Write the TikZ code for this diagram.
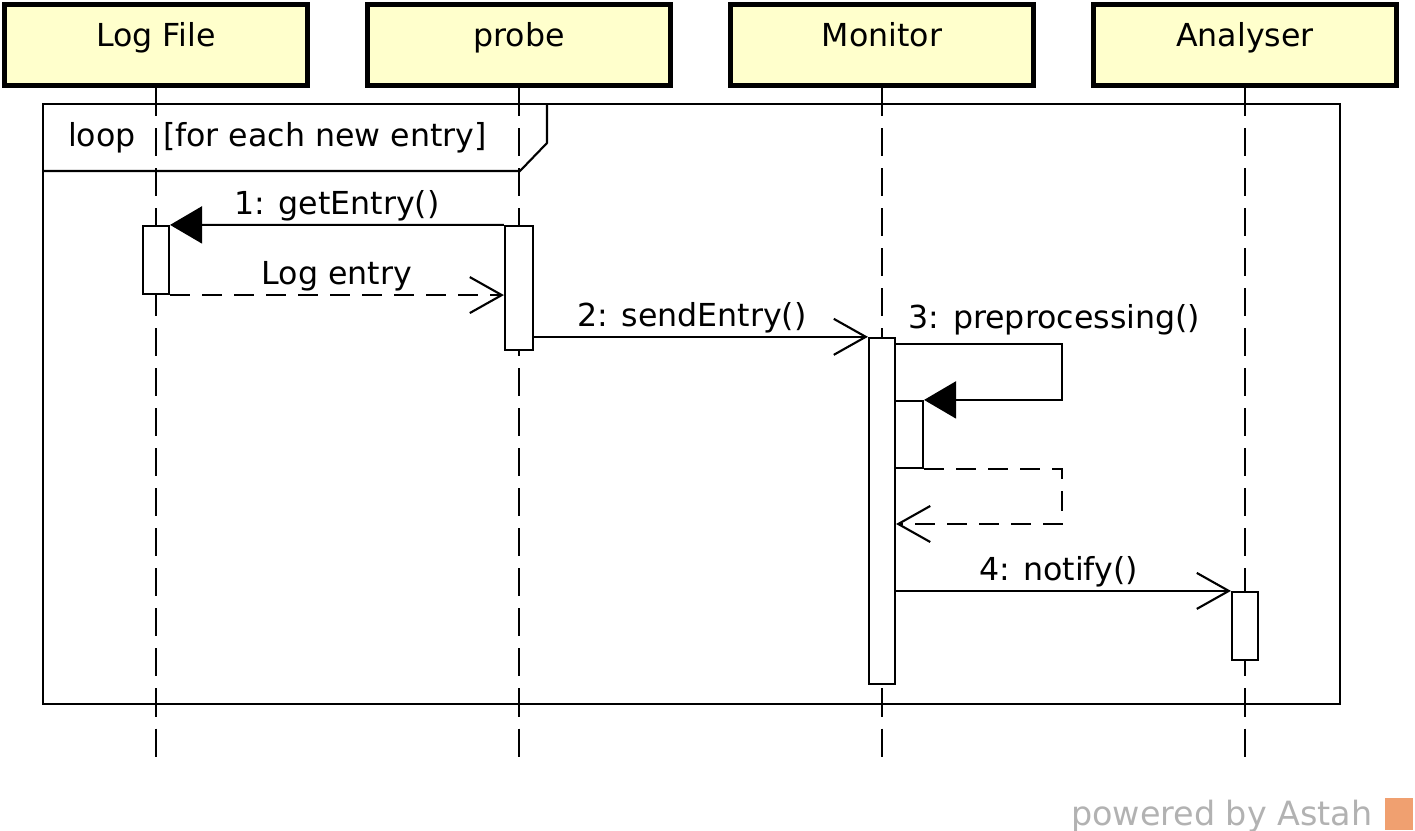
\documentclass[tikz,border=0pt]{standalone}
\usepackage{fontspec}
\setmainfont{DejaVu Sans}
\usetikzlibrary{arrows.meta}
\definecolor{headfill}{RGB}{255,255,204}
\definecolor{astahgray}{RGB}{178,178,178}
\definecolor{astahorange}{RGB}{240,160,112}
\tikzset{
	head/.style={draw,line width=1.5pt,fill=headfill,minimum width=3.03cm,minimum height=0.81cm,text height=0.3cm,text depth=0.26cm},
	act/.style={draw,fill=white,line width=0.6pt,minimum width=0.26cm,inner sep=0pt},
	lifeline/.style={line width=0.6pt,dash pattern=on 0.28cm off 0.12cm},
	call/.style={line width=0.6pt,-{Triangle[length=0.32cm,width=0.37cm]}},
	msg/.style={line width=0.6pt,-{Straight Barb[length=0.32cm,width=0.36cm]}},
	reply/.style={msg,dash pattern=on 0.2cm off 0.12cm}
}
\begin{document}
\begin{tikzpicture}
	[
		x=0.01cm,
		y=-0.01cm,
		line join=miter,
		font=\fontsize{9}{11}\selectfont
	]
		\useasboundingbox (0,0) rectangle (1415,831);
		% lifelines
		\node[head] (logfile) at (156,45) {Log File};
		\node[head] (probe) at (519,45) {probe};
		\node[head] (monitor) at (882,45) {Monitor};
		\node[head] (analyser) at (1245,45) {Analyser};
		\coordinate (logend) at (156,757);
		\coordinate (probeend) at (519,757);
		\coordinate (monend) at (882,757);
		\coordinate (anaend) at (1245,757);
		\draw[lifeline] (logfile) -- (logend);
		\draw[lifeline] (probe) -- (probeend);
		\draw[lifeline] (monitor) -- (monend);
		\draw[lifeline] (analyser) -- (anaend);
		% loop frame
		\draw[line width=0.6pt] (43,104) rectangle (1340,704);
		\draw[line width=0.6pt] (43,171) -- (520,171) -- (547,143) -- (547,104);
		\node (looplbl) at (102,138) {loop};
		\node (guard) at (325,138) {[for each new entry]};
		% activations
		\node[act,minimum height=0.68cm] (logact) at (156,260) {};
		\node[act,minimum height=1.24cm,minimum width=0.28cm] (probeact) at (519,288) {};
		\node[act,minimum height=3.46cm] (monact) at (882,511) {};
		\node[act,minimum height=0.67cm,minimum width=0.28cm] (nestact) at (909,434.5) {};
		\node[act,minimum height=0.68cm] (anaact) at (1245,626) {};
		% messages
		\draw[call] (probeact.north west) -- node[above=-2.5pt] (m1) {1: getEntry()} (logact.north east);
		\draw[reply] (logact.south east) -- node[above=-2.5pt] (m1r) {Log entry} (logact.south east -| probeact.west);
		\draw[msg] (probeact.east |- monact.north west) -- node[above=-2.5pt,xshift=-0.09cm] (m2) {2: sendEntry()} (monact.north west);
		\draw[call] ([yshift=-0.07cm]monact.north east) node[anchor=south west,yshift=-1pt] (m3) {3: preprocessing()} -- ++(166,0) |- (nestact.north east);
		\coordinate (selfret) at (monact.east |- 0,524);
		\draw[reply] (nestact.south east) -- ++(138,0) |- (selfret);
		\draw[msg] (monact.east |- anaact.north west) -- node[above=-2.5pt,xshift=-0.05cm] (m4) {4: notify()} (anaact.north west);
		% footer
		\node[anchor=base east,text=astahgray,font=\fontsize{9.5}{11}\selectfont] (astah) at (1385,825) {powered by Astah};
		\node[fill=astahorange,minimum width=0.28cm,minimum height=0.32cm,inner sep=0pt] (logo) at (1399,814) {};
\end{tikzpicture}
\end{document}
